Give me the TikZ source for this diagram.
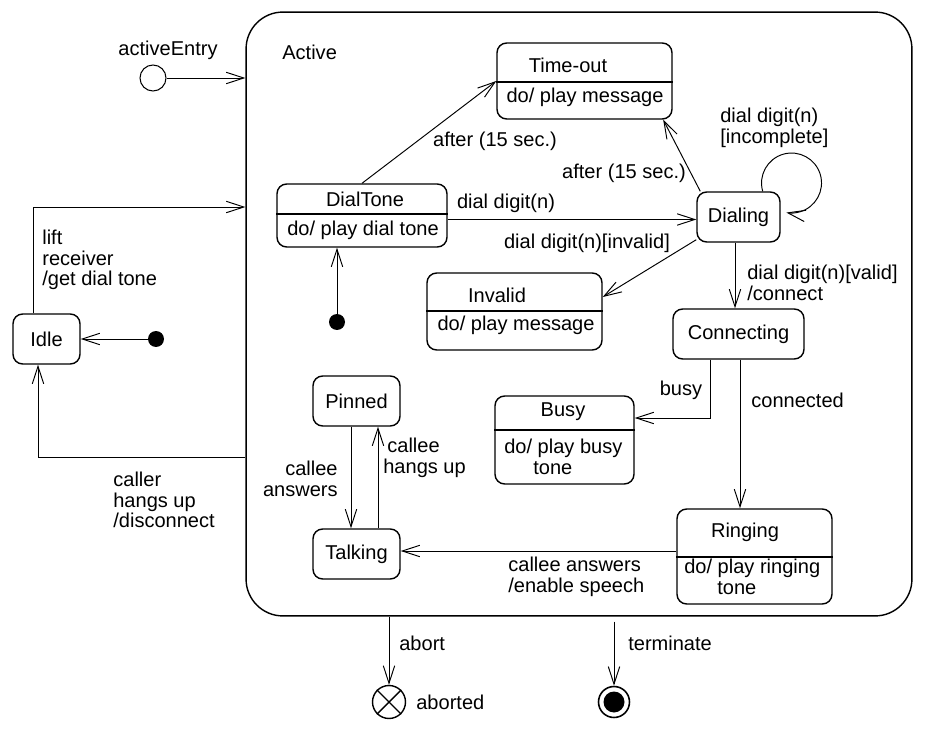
\documentclass[tikz,border=0pt]{standalone}
\usepackage{fontspec}
\setmainfont{Liberation Sans}
\usetikzlibrary{arrows.meta}
\tikzset{
  state/.style={draw, rounded corners=5.5pt, line width=0.8pt, inner sep=0pt, minimum height=1cm},
  trans/.style={-{Straight Barb[length=10pt,width=6.5pt]}, line width=0.55pt},
  txt/.style={inner sep=0pt},
  dot/.style={circle, fill, inner sep=0pt, minimum size=0.32cm},
}
\begin{document}
\begin{tikzpicture}[x=0.02cm,y=0.02cm,font=\fontsize{11.4}{11.8}\selectfont]
\useasboundingbox (0,0) rectangle (937,-733);
% composite state
\node[state, rounded corners=21pt, minimum width=13.32cm, minimum height=12.08cm] (active) at (579,-314) {};
\node[txt, anchor=west] (activename) at (282,-52) {Active};
\node[circle, draw, line width=0.6pt, inner sep=0pt, minimum size=0.52cm] (entry) at (153,-78) {};
\node[txt] (entryname) at (168,-50) {activeEntry};
% simple states
\node[state, minimum width=1.34cm] (idle) at (46.5,-339) {Idle};
\node[state, minimum width=1.66cm] (dialing) at (738.5,-217) {Dialing};
\node[state, minimum width=2.62cm] (connecting) at (738.5,-334) {Connecting};
\node[state, minimum width=1.74cm] (pinned) at (356.5,-401) {Pinned};
\node[state, minimum width=1.74cm] (talking) at (356.5,-554) {Talking};
% states with activities
\node[state, minimum width=3.5cm, minimum height=1.52cm] (timeout) at (584.5,-81) {};
\draw[line width=0.8pt] ([yshift=-0.02cm]timeout.west) -- ([yshift=-0.02cm]timeout.east);
\node[txt] (timeoutname) at (568,-65) {Time-out};
\node[txt] (timeoutdo) at (585,-97) {do/ play message};
\node[state, minimum width=3.4cm, minimum height=1.26cm] (dialtone) at (362,-215.5) {};
\draw[line width=0.8pt] ([yshift=0.03cm]dialtone.west) -- ([yshift=0.03cm]dialtone.east);
\node[txt] (dialtonename) at (365,-199) {DialTone};
\node[txt] (dialtonedo) at (363,-230) {do/ play dial tone};
\node[state, minimum width=3.5cm, minimum height=1.54cm] (invalid) at (514.5,-311.5) {};
\draw[line width=0.8pt] ([yshift=0.01cm]invalid.west) -- ([yshift=0.01cm]invalid.east);
\node[txt] (invalidname) at (497,-295) {Invalid};
\node[txt] (invaliddo) at (516,-325) {do/ play message};
\node[state, minimum width=2.78cm, minimum height=1.76cm] (busy) at (564.5,-440) {};
\draw[line width=0.8pt] ([yshift=0.2cm]busy.west) -- ([yshift=0.2cm]busy.east);
\node[txt] (busyname) at (563,-412) {Busy};
\node[txt, anchor=west, align=left] (busydo) at (504,-457) {do/ play busy\\\hspace*{0.58cm}tone};
\node[state, minimum width=3.1cm, minimum height=1.9cm] (ringing) at (754.5,-556.5) {};
\draw[line width=0.8pt] ([yshift=-0.01cm]ringing.west) -- ([yshift=-0.01cm]ringing.east);
\node[txt] (ringingname) at (745,-532) {Ringing};
\node[txt, anchor=west, align=left] (ringingdo) at (684,-577) {do/ play ringing\\\hspace*{0.66cm}tone};
% pseudo states
\node[dot] (idleinit) at (156,-339) {};
\node[dot] (dialinit) at (337,-322) {};
\node[circle, draw, line width=0.8pt, inner sep=0pt, minimum size=0.66cm] (aborted) at (389,-702) {};
\draw[line width=0.8pt] (aborted.45) -- (aborted.225) (aborted.135) -- (aborted.315);
\node[txt, anchor=west] (abortedname) at (416,-702) {aborted};
\node[circle, draw, line width=0.9pt, inner sep=0pt, minimum size=0.62cm] (final) at (614,-702) {};
\fill (final.center) circle (0.21cm);
% transitions
\draw[trans] (entry) -- (entry -| active.west);
\draw[trans] (idleinit) -- (idle);
\draw[trans] ([xshift=-0.27cm]idle.north) |- ([yshift=2.14cm]active.west);
\node[txt, anchor=west, align=left] (liftlbl) at (42,-260) {lift\\receiver\\/get dial tone};
\draw[trans] ([yshift=-2.88cm]active.west) -| ([xshift=-0.17cm]idle.south);
\node[txt, anchor=west, align=left] (hanglbl) at (113,-500) {caller\\hangs up\\/disconnect};
\draw[trans] (dialinit) -- (dialinit |- dialtone.south);
\draw[trans] (dialtone.north) -- (timeout.west);
\node[txt] (after1) at (495,-141) {after (15 sec.)};
\draw[trans] ([xshift=0.08cm]dialing.north west) -- ([xshift=-0.19cm]timeout.south east);
\node[txt] (after2) at (624,-173) {after (15 sec.)};
\draw[trans] ([yshift=-0.08cm]dialtone.east) -- ([yshift=-0.08cm]dialtone.east -| dialing.west);
\node[txt] (digitlbl) at (506,-203) {dial digit(n)};
\draw[trans] ([yshift=0.06cm]dialing.south west) -- ([yshift=0.29cm]invalid.east);
\node[txt] (invalidlbl) at (587,-243) {dial digit(n)[invalid]};
\draw[trans] ([xshift=-0.36cm]dialing.north east) arc[start angle=196, end angle=-100, radius=0.6cm];
\node[txt, anchor=west, align=left] (looplbl) at (720,-128) {dial digit(n)\\{[incomplete]}};
\draw[trans] ([xshift=-0.07cm]dialing.south) -- ([xshift=-0.07cm]connecting.north);
\node[txt, anchor=west, align=left] (validlbl) at (747,-283) {dial digit(n)[valid]\\/connect};
\draw[trans] ([xshift=-0.57cm]connecting.south) |- ([yshift=0.44cm]busy.east);
\node[txt] (busylbl) at (681,-390) {busy};
\draw[trans] ([xshift=0.03cm]connecting.south) -- ([xshift=0.03cm]connecting.south |- ringing.north);
\node[txt, anchor=west] (connectedlbl) at (751,-400) {connected};
\draw[trans] ([yshift=0.06cm]talking.east -| ringing.west) -- ([yshift=0.06cm]talking.east);
\node[txt, anchor=west, align=left] (speechlbl) at (508,-577) {callee answers\\/enable speech};
\draw[trans] ([xshift=-0.11cm]pinned.south) -- ([xshift=-0.11cm]talking.north);
\node[txt, anchor=east, align=right] (answerlbl) at (338,-479) {callee\\answers};
\draw[trans] ([xshift=0.43cm]talking.north) -- ([xshift=0.43cm]pinned.south);
\node[txt, anchor=west, align=left] (hangslbl) at (383,-458) {\hspace*{0.08cm}callee\\hangs up};
\draw[trans] (aborted.north |- active.south) -- (aborted.north);
\node[txt, anchor=west] (abortlbl) at (399,-643) {abort};
\draw[trans] ([yshift=-0.1cm]final.north |- active.south) -- (final.north);
\node[txt, anchor=west] (terminatelbl) at (628,-643) {terminate};
\end{tikzpicture}
\end{document}
